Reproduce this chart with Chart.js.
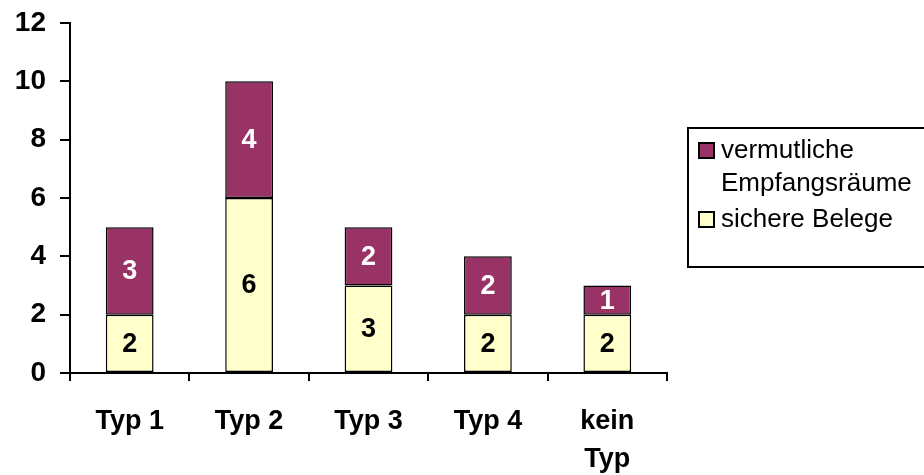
<!DOCTYPE html>
<html><head><meta charset="utf-8">
<script src="https://cdn.jsdelivr.net/npm/chart.js@4/dist/chart.umd.min.js"></script>
<style>
html,body{margin:0;padding:0;background:#fff;}
#wrap{position:relative;width:924px;height:475px;overflow:hidden;}
#legend{position:absolute;left:687px;top:127px;width:250px;height:141px;border:2px solid #000;box-sizing:border-box;
 font-family:"Liberation Sans",Arial,sans-serif;font-size:26px;color:#000;}
.item{position:absolute;left:9px;}
.sw{position:absolute;left:0;width:13px;height:13px;border:2px solid #000;}
.txt{position:absolute;left:23px;line-height:33px;white-space:nowrap;}
</style></head>
<body><div id="wrap"><canvas id="c" width="924" height="475"></canvas><div id="legend"></div></div>
<script>
const categories = [['Typ 1'], ['Typ 2'], ['Typ 3'], ['Typ 4'], ['kein', 'Typ']];
const sichereBelege = [2, 6, 3, 2, 2];
const vermutlicheEmpfangsraeume = [3, 4, 2, 2, 1];
const yTicks = [0, 2, 4, 6, 8, 10, 12];
const seriesNames = ['sichere Belege', 'vermutliche Empfangsräume'];
const legendLines = [['vermutliche', 'Empfangsräume'], ['sichere Belege']];

const FONT = '"Liberation Sans", Arial, sans-serif';
const colors = ['#FFFFCC', '#993366'];
const labelColors = ['#000000', '#FFFFFF'];

const valueLabels = {
  id: 'valueLabels',
  afterDatasetsDraw(chart) {
    const ctx = chart.ctx;
    ctx.save();
    ctx.font = 'bold 27px ' + FONT;
    ctx.textAlign = 'center';
    ctx.textBaseline = 'middle';
    chart.data.datasets.forEach((ds, di) => {
      const meta = chart.getDatasetMeta(di);
      meta.data.forEach((bar, i) => {
        const p = bar.getProps(['x', 'y', 'base'], true);
        ctx.fillStyle = labelColors[di];
        ctx.fillText(String(ds.data[i]), p.x, (p.y + p.base) / 2 + 1);
      });
    });
    ctx.restore();
  }
};

new Chart(document.getElementById('c'), {
  type: 'bar',
  data: {
    labels: categories,
    datasets: [
      { label: seriesNames[0], data: sichereBelege, backgroundColor: colors[0], borderColor: '#000', borderWidth: 1.5, borderSkipped: false },
      { label: seriesNames[1], data: vermutlicheEmpfangsraeume, backgroundColor: colors[1], borderColor: '#000', borderWidth: 1.5, borderSkipped: false }
    ]
  },
  options: {
    responsive: false,
    animation: false,
    layout: { padding: { left: 0, top: 23, right: 257, bottom: 0 } },
    datasets: { bar: { categoryPercentage: 1, barPercentage: 0.4 } },
    plugins: { legend: { display: false }, tooltip: { enabled: false } },
    scales: {
      x: {
        stacked: true,
        border: { display: true, color: '#000', width: 2 },
        grid: { display: true, drawOnChartArea: false, drawTicks: true, tickLength: 8, color: '#000', lineWidth: 2, offset: true },
        ticks: { color: '#000', font: { family: FONT, size: 27, weight: 'bold', lineHeight: 1.4 }, padding: 22, maxRotation: 0, autoSkip: false },
        afterFit(s) { s.height = 102; s.paddingLeft = 0; s.paddingRight = 0; }
      },
      y: {
        stacked: true,
        min: 0, max: 12,
        afterBuildTicks(s) { s.ticks = yTicks.map(v => ({ value: v })); },
        border: { display: true, color: '#000', width: 2 },
        grid: { display: true, drawOnChartArea: false, drawTicks: true, tickLength: 10, color: '#000', lineWidth: 2 },
        ticks: { color: '#000', font: { family: FONT, size: 28, weight: 'bold' }, padding: 14 },
        afterFit(s) { s.width = 70; s.paddingTop = 0; s.paddingBottom = 0; }
      }
    }
  },
  plugins: [valueLabels]
});

// HTML legend built from the series data
const lg = document.getElementById('legend');
const order = [1, 0];
const tops = [4, 73];
order.forEach((di, k) => {
  const item = document.createElement('div');
  item.className = 'item';
  item.style.top = tops[k] + 'px';
  const sw = document.createElement('div');
  sw.className = 'sw';
  sw.style.background = colors[di];
  sw.style.top = '9px';
  const t = document.createElement('div');
  t.className = 'txt';
  t.innerHTML = legendLines[k].join('<br>');
  item.appendChild(sw);
  item.appendChild(t);
  lg.appendChild(item);
});
</script>
</body></html>
